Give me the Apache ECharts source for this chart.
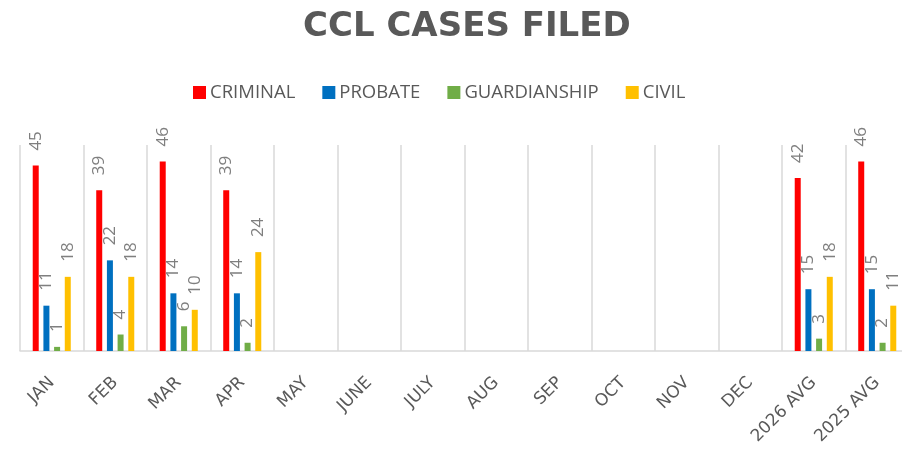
<!DOCTYPE html>
<html>
<head>
    <meta charset="utf-8" />
    <title>CCL CASES FILED</title>
    <script src="https://cdn.jsdelivr.net/npm/echarts@6/dist/echarts.min.js"></script>
    <style>
        html, body { margin: 0; padding: 0; background: #ffffff; }
        #main { width: 902px; height: 460px; }
    </style>
</head>
<body>
<div id="main"></div>
<script type="text/javascript">
    // categories
    var months = ['JAN', 'FEB', 'MAR', 'APR', 'MAY', 'JUNE', 'JULY', 'AUG', 'SEP', 'OCT', 'NOV', 'DEC', '2026 AVG', '2025 AVG'];
    // series values (null = no data yet)
    var criminal     = [45, 39, 46, 39, null, null, null, null, null, null, null, null, 42, 46];
    var probate      = [11, 22, 14, 14, null, null, null, null, null, null, null, null, 15, 15];
    var guardianship = [1, 4, 6, 2, null, null, null, null, null, null, null, null, 3, 2];
    var civil        = [18, 18, 10, 24, null, null, null, null, null, null, null, null, 18, 11];

    var myChart = echarts.init(document.getElementById('main'));

    // 柱子上方竖排的数字
    var barLabel = {
        show: true,
        position: 'top',
        rotate: 90,
        align: 'left',
        verticalAlign: 'middle',
        distance: 15,
        color: '#7f7f7f',
        fontFamily: 'Open Sans',
        fontSize: 17
    };

    function makeSeries(name, data, color) {
        return {
            name: name,
            type: 'bar',
            data: data,
            barWidth: 6,
            barGap: '78%',
            itemStyle: { color: color },
            label: barLabel
        };
    }

    var option = {
        backgroundColor: '#ffffff',
        title: {
            text: 'CCL CASES FILED',
            left: 298,
            top: 5,
            textStyle: {
                color: '#595959',
                fontFamily: 'DejaVu Sans',
                fontWeight: 'bold',
                fontSize: 34
            }
        },
        legend: {
            left: 193,
            top: 83,
            padding: 0,
            itemWidth: 13,
            itemHeight: 13,
            itemGap: 27,
            icon: 'rect',
            textStyle: {
                color: '#595959',
                fontFamily: 'Open Sans',
                fontSize: 18.5,
                padding: [0, 0, 0, -1]
            }
        },
        grid: {
            left: 20,
            right: -7,
            top: 145,
            bottom: 109,
            containLabel: false,
            outerBoundsMode: 'none'
        },
        xAxis: {
            type: 'category',
            data: months,
            axisTick: { show: false },
            axisLine: { lineStyle: { color: '#d9d9d9', width: 1.5 } },
            splitLine: { show: true, lineStyle: { color: '#d9d9d9', width: 1.5 } },
            axisLabel: {
                interval: 0,
                rotate: 45,
                margin: 29,
                color: '#595959',
                fontFamily: 'DejaVu Sans',
                fontSize: 17
            }
        },
        yAxis: {
            type: 'value',
            min: 0,
            max: 50,
            show: false,
            splitLine: { show: false }
        },
        series: [
            makeSeries('CRIMINAL', criminal, '#ff0000'),
            makeSeries('PROBATE', probate, '#0070c0'),
            makeSeries('GUARDIANSHIP', guardianship, '#70ad47'),
            makeSeries('CIVIL', civil, '#ffc000')
        ]
    };
    myChart.setOption(option);
</script>
</body>
</html>
